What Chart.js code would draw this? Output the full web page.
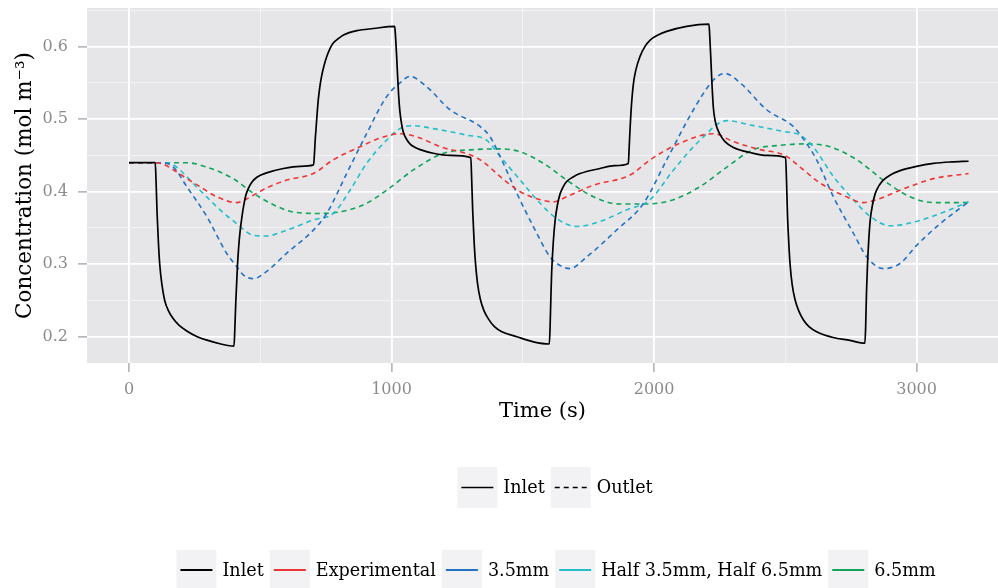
<!DOCTYPE html>
<html>
<head>
<meta charset="utf-8">
<script src="https://cdn.jsdelivr.net/npm/chart.js@4.4.1/dist/chart.umd.min.js"></script>
<style>
  html, body { margin: 0; padding: 0; background: #ffffff; }
  canvas { display: block; }
</style>
</head>
<body>
<canvas id="chart" width="998" height="588"></canvas>
<script>
// ---- Data: concentration (mol m^-3) against time (s) ----
const inletTime = [0,100,103,107,112,117,125,136,150,168,190,220,260,300,350,400,
  403,407,413,418,423,430,436,445,455,470,487,524,588,651,703,
  706,709,712,716,721,727,734,743,753,765,778,797,817,868,931,1012,
  1015,1019,1023,1027,1032,1038,1045,1056,1070,1090,1109,1159,1223,1302,
  1305,1309,1314,1319,1327,1338,1352,1370,1392,1420,1477,1540,1601,
  1604,1607,1610,1616,1623,1632,1642,1654,1667,1690,1718,1794,1850,1902,
  1905,1909,1914,1921,1930,1947,1965,1985,2015,2048,2124,2209,
  2212,2216,2221,2226,2233,2241,2251,2270,2302,2366,2429,2501,
  2504,2508,2513,2518,2526,2537,2552,2569,2590,2619,2682,2746,2803,
  2806,2809,2813,2818,2823,2832,2842,2856,2873,2900,2937,3000,3064,3130,3198];
const inletConc = [0.440,0.440,0.415,0.370,0.330,0.300,0.273,0.250,0.236,0.225,0.216,0.208,0.200,0.195,0.190,0.187,
  0.210,0.250,0.297,0.325,0.345,0.365,0.379,0.395,0.405,0.414,0.420,0.426,0.432,0.435,0.437,
  0.450,0.470,0.485,0.505,0.527,0.545,0.560,0.574,0.586,0.597,0.605,0.611,0.616,0.622,0.625,0.628,
  0.615,0.590,0.560,0.533,0.510,0.494,0.482,0.473,0.466,0.461,0.458,0.453,0.450,0.447,
  0.420,0.375,0.335,0.305,0.275,0.252,0.236,0.224,0.214,0.207,0.200,0.193,0.190,
  0.215,0.255,0.290,0.330,0.360,0.382,0.397,0.407,0.414,0.420,0.425,0.432,0.436,0.439,
  0.460,0.490,0.520,0.548,0.567,0.587,0.600,0.609,0.616,0.621,0.628,0.631,
  0.615,0.585,0.545,0.515,0.497,0.487,0.479,0.469,0.461,0.454,0.450,0.447,
  0.420,0.370,0.330,0.300,0.272,0.251,0.235,0.223,0.214,0.207,0.199,0.195,0.191,
  0.215,0.260,0.300,0.335,0.360,0.382,0.397,0.408,0.416,0.423,0.429,0.435,0.439,0.441,0.442];

const expTime = [0,100,130,170,220,270,334,410,448,473,524,600,702,778,880,956,1032,1109,1185,1299,1350,1413,
  1490,1566,1617,1667,1769,1909,1985,2099,2226,2302,2404,2499,2556,2632,2721,2798,2848,2937,3064,3198];
const expConc = [0.440,0.440,0.438,0.430,0.418,0.407,0.393,0.385,0.390,0.395,0.405,0.416,0.425,0.444,0.462,0.474,0.480,0.474,0.462,0.451,0.441,0.421,
  0.400,0.389,0.386,0.393,0.409,0.423,0.444,0.467,0.480,0.469,0.458,0.450,0.434,0.412,0.395,0.385,0.389,0.402,0.418,0.425];

const mm35Time = [0,120,169,220,296,372,410,436,473,524,600,702,753,829,905,981,1032,1070,1133,1223,1337,1375,1413,
  1477,1540,1604,1648,1680,1743,1857,1960,2048,2150,2226,2270,2328,2429,2530,2562,2619,2683,2759,2810,2873,2937,3000,3090,3198];
const mm35Conc = [0.440,0.440,0.434,0.407,0.366,0.315,0.297,0.285,0.280,0.290,0.315,0.347,0.370,0.425,0.480,0.531,0.550,0.559,0.545,0.513,0.490,0.476,0.449,
  0.398,0.352,0.310,0.297,0.294,0.310,0.347,0.384,0.444,0.513,0.554,0.563,0.550,0.513,0.490,0.476,0.444,0.393,0.343,0.310,0.294,0.301,0.326,0.356,0.386];

const halfTime = [0,140,169,270,347,410,473,524,600,702,778,842,905,981,1032,1083,1159,1286,1362,1413,
  1490,1566,1629,1705,1794,1896,1985,2074,2175,2277,2366,2493,2556,2606,2683,2759,2823,2899,3000,3090,3198];
const halfConc = [0.440,0.440,0.437,0.402,0.375,0.356,0.340,0.339,0.347,0.361,0.370,0.402,0.439,0.471,0.487,0.491,0.487,0.478,0.471,0.449,
  0.416,0.384,0.363,0.352,0.359,0.375,0.389,0.430,0.471,0.498,0.492,0.483,0.478,0.462,0.421,0.389,0.366,0.353,0.359,0.370,0.386];

const mm65Time = [0,150,220,296,397,473,550,626,728,829,905,981,1083,1198,1312,1413,
  1490,1579,1667,1769,1870,1971,2074,2175,2277,2378,2480,2582,2670,2772,2873,2975,3064,3198];
const mm65Conc = [0.440,0.440,0.440,0.434,0.418,0.398,0.382,0.372,0.370,0.374,0.384,0.402,0.430,0.453,0.458,0.459,
  0.455,0.439,0.416,0.393,0.383,0.383,0.389,0.407,0.434,0.458,0.464,0.466,0.462,0.444,0.416,0.393,0.385,0.385];

const seriesNames = ['Inlet', 'Experimental', '3.5mm', 'Half 3.5mm, Half 6.5mm', '6.5mm'];
const linetypeNames = ['Inlet', 'Outlet'];

const xTickValues = [0, 500, 1000, 1500, 2000, 2500, 3000];
const xTickLabels = ['0', '', '1000', '', '2000', '', '3000'];
const yTickValues = [0.2, 0.25, 0.3, 0.35, 0.4, 0.45, 0.5, 0.55, 0.6, 0.65];
const yTickLabels = ['0.2', '', '0.3', '', '0.4', '', '0.5', '', '0.6', ''];

// ---- Styling ----
const COLORS = ['#000000', '#EE3535', '#2272C3', '#22BFCB', '#10A55A'];
const DASH = [5, 4];
const SERIF = '"DejaVu Serif", serif';

function toPoints(xs, ys) { return xs.map((x, i) => ({ x: x, y: ys[i] })); }

const seriesData = [
  toPoints(inletTime, inletConc),
  toPoints(expTime, expConc),
  toPoints(mm35Time, mm35Conc),
  toPoints(halfTime, halfConc),
  toPoints(mm65Time, mm65Conc)
];

const datasets = seriesData.map((pts, i) => ({
  label: seriesNames[i],
  data: pts,
  borderColor: COLORS[i],
  borderWidth: i === 0 ? 1.7 : 1.6,
  borderDash: i === 0 ? [] : DASH,
  pointRadius: 0,
  tension: 0.4,
  cubicInterpolationMode: 'monotone',
  fill: false
}));

// grey plotting panel behind the grid
const panelBackground = {
  id: 'panelBackground',
  beforeDraw(chart) {
    const { ctx, chartArea: a } = chart;
    ctx.save();
    ctx.fillStyle = '#e6e6e9';
    ctx.fillRect(a.left, a.top, a.right - a.left, a.bottom - a.top);
    ctx.restore();
  }
};

// two legend rows (line type, then colour) under the axis
function drawLegendRow(ctx, items, top, h, centerX) {
  ctx.save();
  ctx.font = '17.6px ' + SERIF;
  const keyW = 40, keyGap = 6, itemGap = 6;
  const widths = items.map(it => ctx.measureText(it.label).width);
  let total = 0;
  widths.forEach(w => { total += keyW + keyGap + w; });
  total += itemGap * (items.length - 1);
  let x = centerX - total / 2;
  items.forEach((it, i) => {
    ctx.fillStyle = '#f2f2f4';
    ctx.fillRect(x, top, keyW, h);
    ctx.strokeStyle = it.color;
    ctx.lineWidth = it.width;
    ctx.setLineDash(it.dash);
    ctx.beginPath();
    ctx.moveTo(x + 4, top + h / 2);
    ctx.lineTo(x + keyW - 4, top + h / 2);
    ctx.stroke();
    ctx.setLineDash([]);
    ctx.fillStyle = '#000000';
    ctx.textBaseline = 'middle';
    ctx.textAlign = 'left';
    ctx.fillText(it.label, x + keyW + keyGap, top + h / 2 + 1);
    x += keyW + keyGap + widths[i] + itemGap;
  });
  ctx.restore();
}

const legendRows = {
  id: 'legendRows',
  afterDraw(chart) {
    const ctx = chart.ctx;
    const typeItems = linetypeNames.map((n, i) => ({ label: n, color: '#000000', width: 1.7, dash: i === 0 ? [] : DASH }));
    const colourItems = seriesNames.map((n, i) => ({ label: n, color: COLORS[i], width: 2, dash: [] }));
    drawLegendRow(ctx, typeItems, 467, 41, 555);
    drawLegendRow(ctx, colourItems, 550, 40, 556);
  }
};

const ctx = document.getElementById('chart').getContext('2d');
new Chart(ctx, {
  type: 'line',
  data: { datasets: datasets },
  plugins: [panelBackground, legendRows],
  options: {
    responsive: false,
    devicePixelRatio: 1,
    animation: false,
    events: [],
    layout: { padding: { top: 8, left: 0, right: 0, bottom: 160 } },
    plugins: { legend: { display: false }, tooltip: { enabled: false } },
    scales: {
      x: {
        type: 'linear',
        min: -160,
        max: 3310,
        afterBuildTicks(scale) { scale.ticks = xTickValues.map(v => ({ value: v })); },
        afterFit(scale) { scale.height = 65; scale.paddingLeft = 0; scale.paddingRight = 0; },
        border: { display: false },
        grid: {
          color: c => (xTickLabels[c.index] ? '#ffffff' : '#f4f4f6'),
          lineWidth: c => (xTickLabels[c.index] ? 1.8 : 0.9),
          tickColor: c => (xTickLabels[c.index] ? '#9a9a9a' : 'rgba(0,0,0,0)'),
          tickWidth: 1.2,
          tickLength: 9
        },
        ticks: {
          autoSkip: false,
          maxRotation: 0,
          padding: 8,
          color: '#8c8c8c',
          font: { family: SERIF, size: 16 },
          callback: (v, i) => xTickLabels[i]
        },
        title: {
          display: true,
          text: 'Time (s)',
          color: '#000000',
          font: { family: SERIF, size: 21 },
          padding: { top: 0, bottom: 4 }
        }
      },
      y: {
        type: 'linear',
        min: 0.1638,
        max: 0.6533,
        afterBuildTicks(scale) { scale.ticks = yTickValues.map(v => ({ value: v })); },
        afterFit(scale) { scale.width = 87; scale.paddingTop = 0; scale.paddingBottom = 0; },
        border: { display: false },
        grid: {
          color: c => (yTickLabels[c.index] ? '#ffffff' : '#f4f4f6'),
          lineWidth: c => (yTickLabels[c.index] ? 1.8 : 0.9),
          tickColor: c => (yTickLabels[c.index] ? '#9a9a9a' : 'rgba(0,0,0,0)'),
          tickWidth: 1.2,
          tickLength: 9
        },
        ticks: {
          autoSkip: false,
          padding: 10,
          color: '#8c8c8c',
          font: { family: SERIF, size: 16 },
          callback: (v, i) => yTickLabels[i]
        },
        title: {
          display: true,
          text: 'Concentration (mol m\u207B\u00B3)',
          color: '#000000',
          font: { family: SERIF, size: 21.5 },
          padding: { top: 13, bottom: 0 }
        }
      }
    }
  }
});
</script>
</body>
</html>
